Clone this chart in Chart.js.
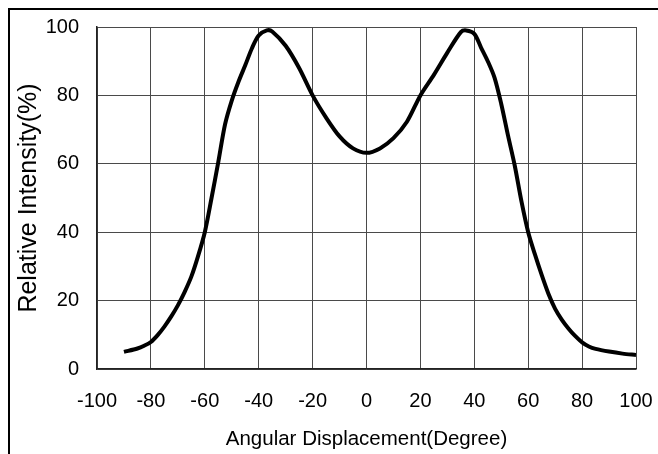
<!DOCTYPE html>
<html>
<head>
<meta charset="utf-8">
<script src="https://cdn.jsdelivr.net/npm/chart.js@4/dist/chart.umd.min.js"></script>
<style>
html,body{margin:0;padding:0;background:#fff;}
#wrap{position:absolute;left:0;top:0;width:658px;height:454px;}
#frame{position:absolute;left:8px;top:8px;width:700px;height:500px;border-left:2px solid #000;border-top:2px solid #000;}
</style>
</head>
<body>
<div id="frame"></div>
<div id="wrap"><canvas id="c" width="658" height="454"></canvas></div>
<script>
// angular distribution, degrees vs relative intensity (%)
var angles = [-90,-85,-82.5,-80,-77.5,-75,-72.5,-70,-67.5,-65,-62.5,-60,-57.5,-55,-52.5,-50,-47.5,-45,-42.5,-40,-37,-35,-30,-25,-20,-15,-10,-5,0,5,10,15,20,25,30,35,37,40,42.5,45,47.5,50,52.5,55,57.5,60,62.5,65,67.5,70,72.5,75,77.5,80,82.5,85,90,95,100];
var intensity = [5.0,6.0,6.8,7.9,9.9,12.4,15.3,18.6,22.5,27.0,33.0,40.0,50.0,60.5,71.5,78.5,84.0,88.8,93.8,97.5,99.0,98.7,94.5,88.0,80.0,73.5,68.0,64.5,63.2,64.5,67.5,72.3,80.0,86.0,92.5,98.5,99.0,98.0,94.0,90.0,85.2,77.5,68.3,59.5,49.0,40.0,33.5,27.5,22.0,17.6,14.4,11.8,9.6,7.8,6.6,5.9,5.1,4.5,4.1];
var xTicks = [-100,-80,-60,-40,-20,0,20,40,60,80,100];
var yTicks = [0,20,40,60,80,100];

var pts = [];
for (var i = 0; i < angles.length; i++) pts.push({x: angles[i], y: intensity[i]});

var gridCol = '#4a4a4a';
var font = 'Arial, "Liberation Sans", sans-serif';

new Chart(document.getElementById('c'), {
    type: 'line',
    data: {
        datasets: [{
            data: pts,
            borderColor: '#000',
            borderWidth: 4,
            pointRadius: 0,
            fill: false,
            tension: 0.3
        }]
    },
    options: {
        responsive: false,
        animation: false,
        layout: { padding: { left: 0, right: 22, top: 27, bottom: 0 } },
        plugins: { legend: { display: false }, tooltip: { enabled: false } },
        scales: {
            x: {
                type: 'linear',
                min: -100, max: 100,
                afterBuildTicks: function(s) { s.ticks = xTicks.map(function(v) { return {value: v}; }); },
                // fixed axis band; end labels may hang over the plot edges
                afterFit: function(s) { s.height = 85; s.paddingLeft = 0; s.paddingRight = 0; },
                grid: { color: gridCol, lineWidth: 1, drawTicks: false },
                border: { color: '#222', width: 1.5 },
                ticks: { color: '#000', padding: 20, maxRotation: 0, font: { family: font, size: 20 } },
                title: { display: true, text: 'Angular Displacement(Degree)', color: '#000', padding: { top: 0, bottom: 2 }, font: { family: font, size: 20.5 } }
            },
            y: {
                min: 0, max: 100,
                afterBuildTicks: function(s) { s.ticks = yTicks.map(function(v) { return {value: v}; }); },
                afterFit: function(s) { s.width = 97; s.paddingTop = 0; s.paddingBottom = 0; },
                grid: { color: gridCol, lineWidth: 1, drawTicks: false },
                border: { color: '#222', width: 1.5 },
                ticks: { color: '#000', padding: 18, font: { family: font, size: 20 } },
                title: { display: true, text: 'Relative Intensity(%)', color: '#000', padding: { top: 14, bottom: 0 }, font: { family: font, size: 25 } }
            }
        }
    }
});
</script>
</body>
</html>
